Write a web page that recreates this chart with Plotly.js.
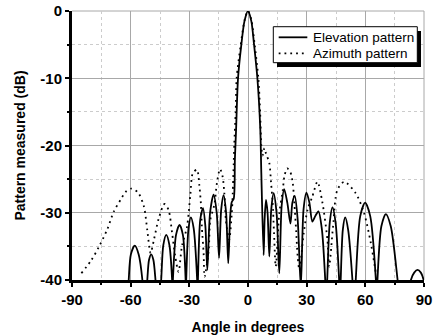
<!DOCTYPE html>
<html>
<head>
<meta charset="utf-8">
<script src="https://cdn.plot.ly/plotly-3.0.1.min.js"></script>
<style>html,body{margin:0;padding:0;background:#fff;}#chart{width:433px;height:336px;}</style>
</head>
<body>
<div id="chart"></div>
<script>
// Elevation pattern (solid)
const elevAngle = [-62,-61,-59.9,-57.9,-55.9,-54,-52.7,-51.5,-50.6,-49.5,-48.4,-47.3,-45.9,-44.4,-43.3,-41.8,-40.2,-38.8,-38.6,-38.4,-36.8,-35.0,-33.3,-31.9,-31.75,-31.6,-30.4,-29.2,-27.8,-26.0,-25.8,-25.6,-24.4,-23.0,-21.8,-20.8,-19.4,-17.6,-16.0,-14.8,-13.7,-12.5,-11.2,-10.1,-9.1,-8.3,-7.3,-6.7,-6.1,-5.1,-3.4,-1.8,0,1.7,3.1,4.8,6.3,6.8,8.0,8.5,9.2,10.0,10.9,11.9,13.1,14.6,16.0,17.2,18.5,20.1,21.7,22.7,23.9,25.4,27.0,28.4,29.9,31.4,32.9,34.4,36.0,37.8,39.5,40.0,40.5,41.8,43.2,44.8,46.6,47.0,47.4,48.5,49.7,51.2,53.4,54.3,55.1,57.4,59.9,62.5,65.4,65.8,66.2,68.2,70.5,73.0,76.5,80.0,83.3,85.0,86.7,88.4,89.8,90];
const elevDb    = [-46,-40,-36.2,-34.9,-36.2,-40,-46,-40,-37,-36.2,-37,-40,-46,-40,-34.8,-33.3,-34.8,-40,-42,-40,-33.3,-31.8,-33.3,-40,-42,-40,-32.3,-30.7,-32.3,-40,-42,-40,-31,-29.3,-32,-38.5,-30,-27.3,-30,-36.7,-29.5,-27.4,-30,-37.5,-30.5,-28.4,-27.9,-22,-17.7,-10,-5,-1.5,0,-1.5,-5,-10,-17.7,-24,-36.3,-31,-28.1,-30,-36.5,-29.5,-27.1,-30,-39,-29,-26.5,-28.5,-31.6,-28.5,-27.5,-31,-41,-29.5,-27.0,-28.5,-31.3,-30.5,-29.8,-32.5,-40,-43,-40,-31.5,-29.2,-31.5,-40,-43,-40,-32.5,-30.7,-32.5,-40,-45,-40,-30.5,-28.5,-30.5,-40,-43,-40,-32,-30.2,-32,-40,-50,-40,-38.9,-38.5,-38.9,-40,-40.5];

// Azimuth pattern (dotted)
const aziAngle = [-85.2,-80,-76.3,-72,-68.6,-65,-62.6,-59.6,-56.2,-53.2,-51.5,-49.8,-48.1,-45.6,-42.7,-40.6,-38.9,-37.2,-35.5,-33.8,-31.2,-29.5,-28.2,-26.1,-24.9,-24.1,-23.6,-22.7,-22.2,-20.1,-19.3,-17.2,-15.9,-14.3,-13.0,-12.1,-11.3,-10.1,-9.6,-8.3,-7.8,-7.3,-7.0,-6.3,-5.8,-3.7,-1.7,0,1.7,3.4,5.3,6.2,6.8,7.4,8.4,9.2,10.9,11.8,12.6,13.3,14.2,16.0,17.8,18.6,20.0,21.7,22.9,23.7,24.6,25.4,26.3,28.5,30.5,32.9,35.5,38.0,40.6,41.5,43.5,45.7,49.2,55.1,59.4,62.8,65.4];
const aziDb    = [-39,-37,-35.1,-32.5,-29.8,-28,-26.9,-26.4,-27.0,-29.1,-32.6,-36.0,-34,-30.8,-28.7,-29.6,-32.8,-36.5,-38.8,-35,-32.1,-27.4,-24.1,-23.6,-25.9,-28.6,-32.1,-36,-39.5,-35.5,-31.1,-28.8,-25.6,-23.5,-24.6,-27.1,-31.1,-33.6,-34,-30.1,-27.1,-22.6,-19.7,-15,-10,-5,-1.3,0,-1.3,-5,-10,-15,-20,-21.5,-20.4,-21.2,-22.6,-25.6,-28.4,-33,-38,-30.1,-26.6,-24.6,-23.4,-24,-25.6,-28.6,-32.6,-36.5,-38.5,-33,-29.5,-27.6,-25.4,-28.4,-34,-38,-32,-26.6,-25.4,-27.1,-30.1,-34.5,-39];

const seriesNames = ['Elevation pattern', 'Azimuth pattern'];
const xTicks = [-90,-60,-30,0,30,60,90];
const yTicks = [-40,-30,-20,-10,0];

const FONT = 'Liberation Sans, Arial, sans-serif';
const DOT = '1.8px,4px';

const traces = [
  {x: elevAngle, y: elevDb, name: seriesNames[0], type: 'scatter', mode: 'lines', showlegend: false,
   line: {color: '#000', width: 1.8, shape: 'spline', smoothing: 0.8}},
  {x: aziAngle, y: aziDb, name: seriesNames[1], type: 'scatter', mode: 'lines', showlegend: false,
   line: {color: '#000', width: 1.8, dash: DOT, shape: 'spline', smoothing: 0.8}}
];

// legend box geometry (paper fractions)
const LG = {x0: 0.5719, x1: 0.9810, y0: 0.8078, y1: 0.9416, sx: 0.0105, sy: 0.0160,
            lx0: 0.5872, lx1: 0.6685, ty: [0.9022, 0.8428], tx: 0.679};

const layout = {
  width: 433, height: 336,
  margin: {l: 72, r: 9, t: 11, b: 56},
  paper_bgcolor: '#fff', plot_bgcolor: '#fff',
  showlegend: false,
  xaxis: {
    range: [-90, 90], tickvals: xTicks, ticktext: xTicks.map(String),
    showgrid: true, gridcolor: '#a8a8a8', gridwidth: 1, zeroline: false,
    showline: true, linecolor: '#000', linewidth: 3,
    ticks: 'outside', ticklen: 4, tickwidth: 2, tickcolor: '#000',
    tickfont: {family: FONT, size: 15, color: '#000', weight: 'bold'},
    minor: {dtick: 15, showgrid: true, gridcolor: '#cccccc', griddash: 'dot', gridwidth: 1,
            ticks: 'outside', ticklen: 2, tickwidth: 2, tickcolor: '#000'},
    title: {text: 'Angle in degrees', font: {family: FONT, size: 14, color: '#000', weight: 'bold'}, standoff: 16}
  },
  yaxis: {
    range: [-40, 0], tickvals: yTicks, ticktext: yTicks.map(String),
    showgrid: true, gridcolor: '#a8a8a8', gridwidth: 1, zeroline: false,
    showline: true, linecolor: '#000', linewidth: 3,
    ticks: 'outside', ticklen: 4, tickwidth: 2, tickcolor: '#000',
    tickfont: {family: FONT, size: 15, color: '#000', weight: 'bold'},
    minor: {dtick: 5, showgrid: true, gridcolor: '#cccccc', griddash: 'dot', gridwidth: 1,
            ticks: 'outside', ticklen: 2, tickwidth: 2, tickcolor: '#000'},
    title: {text: 'Pattern measured (dB)', font: {family: FONT, size: 14, color: '#000', weight: 'bold'}, standoff: 12}
  },
  shapes: [
    // top & right frame gridlines
    {type: 'line', xref: 'paper', yref: 'paper', x0: 0, x1: 1, y0: 1, y1: 1, layer: 'below', line: {color: '#a8a8a8', width: 1}},
    {type: 'line', xref: 'paper', yref: 'paper', x0: 1, x1: 1, y0: 0, y1: 1, layer: 'below', line: {color: '#a8a8a8', width: 1}},
    // legend shadow, box, samples
    {type: 'rect', xref: 'paper', yref: 'paper', layer: 'above',
     x0: LG.x0 + LG.sx, x1: LG.x1 + LG.sx, y0: LG.y0 - LG.sy, y1: LG.y1 - LG.sy,
     fillcolor: '#000', line: {width: 0}},
    {type: 'rect', xref: 'paper', yref: 'paper', layer: 'above',
     x0: LG.x0, x1: LG.x1, y0: LG.y0, y1: LG.y1,
     fillcolor: '#fff', line: {color: '#000', width: 1}},
    {type: 'line', xref: 'paper', yref: 'paper', layer: 'above',
     x0: LG.lx0, x1: LG.lx1, y0: LG.ty[0], y1: LG.ty[0], line: {color: '#000', width: 1.8}},
    {type: 'line', xref: 'paper', yref: 'paper', layer: 'above',
     x0: LG.lx0, x1: LG.lx1, y0: LG.ty[1], y1: LG.ty[1], line: {color: '#000', width: 1.8, dash: DOT}}
  ],
  annotations: seriesNames.map((n, i) => ({
    text: n, xref: 'paper', yref: 'paper', x: LG.tx, y: LG.ty[i],
    xanchor: 'left', yanchor: 'middle', showarrow: false,
    font: {family: FONT, size: 13.5, color: '#000'}
  }))
};

Plotly.newPlot('chart', traces, layout, {displayModeBar: false, staticPlot: true});
</script>
</body>
</html>
